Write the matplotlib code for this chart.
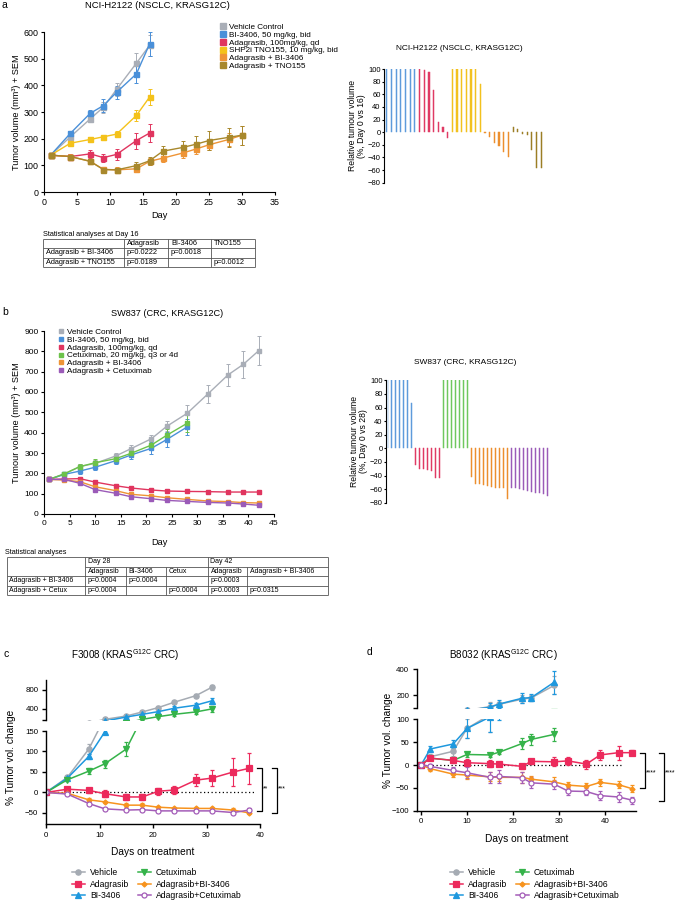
import matplotlib
matplotlib.use('Agg')
import matplotlib.pyplot as plt
from matplotlib.lines import Line2D

# ---------------- data ----------------
# Panel a: NCI-H2122 tumour growth
a_days_short = [1, 4, 7, 9, 11, 14, 16]
a_days_long = [1, 4, 7, 9, 11, 14, 16, 18, 21, 23, 25, 28, 30]
a_vehicle = [138, 207, 274, 318, 385, 483, 550]
a_vehicle_err = [5, 10, 12, 20, 25, 40, 40]
a_bi = [138, 220, 295, 324, 374, 443, 555]
a_bi_err = [5, 8, 12, 25, 25, 35, 45]
a_adag = [138, 133, 143, 129, 141, 193, 221]
a_adag_err = [5, 8, 15, 15, 20, 30, 35]
a_shp2 = [138, 183, 197, 207, 217, 287, 356]
a_shp2_err = [5, 8, 8, 8, 10, 20, 30]
a_adag_bi = [138, 133, 115, 85, 83, 87, 115, 127, 146, 161, 177, 197, 213]
a_adag_bi_err = [5, 8, 8, 10, 10, 10, 12, 15, 20, 20, 20, 25, 35]
a_adag_tno = [138, 133, 115, 84, 83, 99, 117, 153, 167, 179, 193, 205, 213]
a_adag_tno_err = [5, 5, 5, 10, 8, 15, 15, 20, 25, 30, 35, 35, 35]
a_labels = ['Vehicle Control', 'BI-3406, 50 mg/kg, bid', 'Adagrasib, 100mg/kg, qd',
            'SHP2i TNO155, 10 mg/kg, bid', 'Adagrasib + BI-3406', 'Adagrasib + TNO155']

# Panel a waterfall (Day 0 vs 16)
wf_a_bi = [100, 100, 100, 100, 100, 100, 100]
wf_a_adag = [100, 99, 96, 67, 16, 8, -10]
wf_a_shp2 = [100, 100, 100, 100, 100, 100, 77]
wf_a_adag_bi = [-2, -7, -17, -22, -31, -40]
wf_a_adag_tno = [8, 5, -3, -5, -29, -56, -57]

# Panel a stats table
tab_a_cols = ['', 'Adagrasib', 'BI-3406', 'TNO155']
tab_a_rows = [['Adagrasib + BI-3406', 'p=0.0222', 'p=0.0018', ''],
              ['Adagrasib + TNO155', 'p=0.0189', '', 'p=0.0012']]

# Panel b: SW837 tumour growth
b_days_long = [1, 4, 7, 10, 14, 17, 21, 24, 28, 32, 36, 39, 42]
b_days_short = [1, 4, 7, 10, 14, 17, 21, 24, 28]
b_vehicle = [170, 197, 233, 249, 285, 321, 370, 431, 495, 589, 684, 736, 803]
b_vehicle_err = [5, 10, 15, 15, 15, 20, 20, 25, 40, 45, 55, 65, 70]
b_bi = [170, 195, 211, 230, 262, 290, 323, 366, 428]
b_bi_err = [5, 10, 12, 12, 15, 20, 30, 35, 40]
b_adag = [170, 172, 174, 157, 139, 128, 118, 113, 111, 110, 108, 108, 108]
b_adag_err = [5, 6, 8, 8, 8, 8, 8, 8, 8, 8, 8, 8, 8]
b_cetux = [170, 198, 233, 252, 272, 298, 339, 387, 446]
b_cetux_err = [5, 10, 15, 20, 15, 15, 20, 30, 45]
b_adag_bi = [170, 167, 159, 134, 115, 97, 89, 80, 72, 64, 61, 56, 54]
b_adag_bi_err = [5, 5, 5, 5, 5, 5, 5, 5, 5, 5, 5, 5, 5]
b_adag_cet = [170, 170, 151, 120, 102, 85, 75, 67, 62, 57, 54, 49, 43]
b_adag_cet_err = [5, 5, 5, 5, 5, 5, 5, 5, 5, 5, 5, 5, 5]
b_labels = ['Vehicle Control', 'BI-3406, 50 mg/kg, bid', 'Adagrasib, 100mg/kg, qd',
            'Cetuximab, 20 mg/kg, q3 or 4d', 'Adagrasib + BI-3406', 'Adagrasib + Cetuximab']

# Panel b waterfall (Day 0 vs 28)
wf_b_bi = [100, 100, 100, 100, 100, 100, 66]
wf_b_adag = [-24, -30, -31, -32, -33, -43, -44]
wf_b_cetux = [100, 100, 100, 100, 100, 100, 100]
wf_b_adag_bi = [-42, -52, -53, -54, -55, -57, -58, -59, -59, -74]
wf_b_adag_cet = [-58, -59, -60, -61, -63, -64, -65, -66, -67, -70]

# Panel b stats table
tab_b_head1 = ['', 'Day 28', '', '', 'Day 42', '']
tab_b_head2 = ['', 'Adagrasib', 'BI-3406', 'Cetux', 'Adagrasib', 'Adagrasib + BI-3406']
tab_b_rows = [['Adagrasib + BI-3406', 'p=0.0004', 'p=0.0004', '', 'p=0.0003', ''],
              ['Adagrasib + Cetux', 'p=0.0004', '', 'p=0.0004', 'p=0.0003', 'p=0.0315']]

# Panel c: F3008
c_days = [0, 4, 8, 11, 15, 18, 21, 24, 28, 31, 35, 38]
c_days_ctrl = [0, 4, 8, 11, 15, 18, 21, 24, 28, 31]
c_vehicle = [0, 37, 106, 183, 253, 337, 428, 540, 674, 849]
c_vehicle_err = [0, 4, 12, 10, 20, 20, 25, 25, 30, 50]
c_bi = [0, 35, 88, 148, 232, 288, 344, 414, 477, 568]
c_bi_err = [0, 4, 6, 5, 15, 25, 30, 40, 45, 60]
c_cetux = [0, 31, 52, 70, 106, 183, 240, 288, 337, 400]
c_cetux_err = [0, 4, 8, 10, 18, 15, 30, 40, 40, 55]
c_adag = [0, 8, 5, -3, -11, -11, 3, 6, 30, 35, 50, 59]
c_adag_err = [0, 5, 6, 8, 8, 8, 8, 10, 15, 20, 35, 38]
c_adag_bi = [0, -2, -18, -23, -31, -31, -36, -38, -39, -39, -43, -50]
c_adag_bi_err = [0, 2, 4, 3, 5, 6, 4, 3, 3, 3, 6, 3]
c_adag_cet = [0, -4, -27, -40, -43, -42, -45, -45, -45, -45, -49, -43]
c_adag_cet_err = [0, 2, 3, 3, 3, 3, 3, 3, 3, 3, 4, 4]

# Panel d: B8032
d_days = [0, 2, 7, 10, 15, 17, 22, 24, 29, 32, 36, 39, 43, 46]
d_days_ctrl = [0, 2, 7, 10, 15, 17, 22, 24, 29]
d_vehicle = [0, 18, 30, 80, 110, 128, 168, 178, 275]
d_vehicle_err = [0, 5, 10, 20, 38, 15, 30, 25, 70]
d_bi = [0, 35, 46, 80, 105, 130, 175, 180, 300]
d_bi_err = [0, 7, 8, 22, 32, 32, 40, 30, 90]
d_cetux = [0, 15, 10, 23, 22, 28, 47, 56, 67]
d_cetux_err = [0, 4, 4, 5, 5, 5, 12, 12, 15]
d_adag = [0, 15, 10, 5, 3, 2, -3, 8, 7, 9, 2, 22, 27, 27]
d_adag_err = [0, 5, 5, 8, 8, 5, 6, 6, 10, 8, 10, 10, 15, 6]
d_adag_bi = [0, -8, -20, -22, -26, -27, -27, -31, -37, -44, -47, -38, -43, -52]
d_adag_bi_err = [0, 6, 6, 8, 10, 8, 12, 7, 10, 6, 8, 8, 8, 8]
d_adag_cet = [0, -3, -12, -17, -27, -25, -28, -39, -42, -57, -58, -67, -70, -77]
d_adag_cet_err = [0, 5, 8, 12, 12, 15, 12, 12, 10, 8, 8, 10, 10, 8]

cd_labels = ['Vehicle', 'Adagrasib', 'BI-3406', 'Cetuximab',
             'Adagrasib+BI-3406', 'Adagrasib+Cetuximab']

# ---------------- style ----------------
W, H = 677, 900
plt.rcParams['font.family'] = ['Liberation Sans', 'DejaVu Sans']
plt.rcParams['axes.linewidth'] = 0.8
plt.rcParams['xtick.major.width'] = 0.8
plt.rcParams['ytick.major.width'] = 0.8
plt.rcParams['xtick.major.size'] = 2.5
plt.rcParams['ytick.major.size'] = 2.5
plt.rcParams['xtick.major.pad'] = 1.5
plt.rcParams['ytick.major.pad'] = 1.5

C_VEH = '#A9AEB7'
C_BI = '#4A90D9'
C_ADAG = '#E0355F'
C_SHP2 = '#F4C21B'
C_ADBI = '#EE9436'
C_TNO = '#A8882C'
C_CET = '#6CC24A'
C_ADCET = '#9B5BB8'

W_BI = '#5E9BDB'
W_ADAG = '#E03A64'
W_SHP2 = '#F2C11E'
W_ADBI = '#EC8F2E'
W_TNO = '#9C7E25'
W_CET = '#6FC85E'
W_ADCET = '#9B5BB8'

D_VEH = '#A5ABB3'
D_ADAG = '#EC2A5C'
D_BI = '#1E98DE'
D_CET = '#35B34A'
D_ADBI = '#F7931E'
D_ADCET = '#A45DB8'

fig = plt.figure(figsize=(W / 100, H / 100), dpi=100)


def rect(l, t, r, b):
    return [l / W, 1 - b / H, (r - l) / W, (b - t) / H]


def fx(x):
    return x / W


def fy(y):
    return 1 - y / H


def ftext(x, y, s, **kw):
    fig.text(fx(x), fy(y), s, **kw)


def clean(ax, left=True, bottom=True):
    ax.spines['top'].set_visible(False)
    ax.spines['right'].set_visible(False)
    ax.spines['left'].set_visible(left)
    ax.spines['bottom'].set_visible(bottom)


# overlay axes in pixel coordinates for tables
ov = fig.add_axes([0, 0, 1, 1])
ov.set_xlim(0, W)
ov.set_ylim(H, 0)
ov.axis('off')
ov.patch.set_alpha(0)

# ---------------- panel labels ----------------
ftext(2, 5, 'a', fontsize=7.5, va='center')
ftext(2, 312, 'b', fontsize=7.5, va='center')
ftext(3, 654, 'c', fontsize=7.5, va='center')
ftext(367, 652, 'd', fontsize=7.5, va='center')


def sq_series(ax, x, y, e, color, ms=3.6, lw=1.0):
    ax.errorbar(x, y, yerr=e, color=color, marker='s', ms=ms, lw=lw,
                elinewidth=0.7, capsize=1.6, capthick=0.7)


# ---------------- panel a line ----------------
axA = fig.add_axes(rect(44, 32, 275, 192))
sq_series(axA, a_days_short, a_vehicle, a_vehicle_err, C_VEH)
sq_series(axA, a_days_short, a_bi, a_bi_err, C_BI)
sq_series(axA, a_days_short, a_adag, a_adag_err, C_ADAG)
sq_series(axA, a_days_short, a_shp2, a_shp2_err, C_SHP2)
sq_series(axA, a_days_long, a_adag_bi, a_adag_bi_err, C_ADBI)
sq_series(axA, a_days_long, a_adag_tno, a_adag_tno_err, C_TNO)
axA.set_xlim(0, 35)
axA.set_ylim(0, 600)
axA.set_xticks(range(0, 36, 5))
axA.set_yticks(range(0, 601, 100))
axA.tick_params(labelsize=6.4)
clean(axA)
axA.set_xlabel('Day', fontsize=6.6, labelpad=3)
axA.set_ylabel('Tumor volume (mm³) + SEM', fontsize=6.6, labelpad=2)
ftext(157, 6, 'NCI-H2122 (NSCLC, KRASG12C)', fontsize=6.8, ha='center', va='center')
hA = [Line2D([], [], ls='none', marker='s', ms=3.8, color=c)
      for c in [C_VEH, C_BI, C_ADAG, C_SHP2, C_ADBI, C_TNO]]
fig.legend(hA, a_labels, loc='upper left', bbox_to_anchor=(fx(221), fy(23.5)),
           frameon=False, fontsize=5.9, handlelength=0.6, handletextpad=0.4,
           labelspacing=0.0, borderpad=0, borderaxespad=0)


def waterfall(ax, groups, width, npos):
    pos = 0
    for vals, col in groups:
        xs = list(range(pos, pos + len(vals)))
        ax.bar(xs, vals, width=width, color=col, edgecolor=col, linewidth=0.35)
        pos += len(vals)
    ax.set_xlim(-0.6, npos - 0.4)
    ax.set_ylim(-80, 100)
    ax.set_yticks(range(-80, 101, 20))
    ax.set_xticks([])
    clean(ax, bottom=False)
    ax.tick_params(labelsize=5.5, length=1.5, pad=1)


# ---------------- panel a waterfall ----------------
axWA = fig.add_axes(rect(384, 69, 544, 182.7))
waterfall(axWA, [(wf_a_bi, W_BI), (wf_a_adag, W_ADAG), (wf_a_shp2, W_SHP2),
                 (wf_a_adag_bi, W_ADBI), (wf_a_adag_tno, W_TNO)], 0.26, 34)
axWA.set_ylabel('Relative tumour volume\n(%, Day 0 vs 16)', fontsize=6.2,
                linespacing=1.1, labelpad=1)
ftext(459, 48, 'NCI-H2122 (NSCLC, KRASG12C)', fontsize=6, ha='center', va='center')


def draw_line(x0, y0, x1, y1, lw=0.6, color='#555555'):
    ov.plot([x0, x1], [y0, y1], color=color, lw=lw, solid_capstyle='butt')


# ---------------- table a ----------------
ftext(43, 234, 'Statistical analyses at Day 16', fontsize=5.3, va='center')
ta_x = [43, 124, 168, 211, 255]
ta_y = [239.3, 248.3, 257.7, 266.7]
for y in ta_y:
    draw_line(ta_x[0], y, ta_x[-1], y)
for x in ta_x:
    draw_line(x, ta_y[0], x, ta_y[-1])
for r, row in enumerate([tab_a_cols] + tab_a_rows):
    yc = (ta_y[r] + ta_y[r + 1]) / 2
    for c, txt in enumerate(row):
        if txt:
            ov.text(ta_x[c] + 3, yc, txt, fontsize=5.3, va='center', ha='left')

# ---------------- panel b line ----------------
axB = fig.add_axes(rect(44, 331, 274, 514))
sq_series(axB, b_days_long, b_vehicle, b_vehicle_err, C_VEH, ms=3.3)
sq_series(axB, b_days_short, b_bi, b_bi_err, C_BI, ms=3.3)
sq_series(axB, b_days_long, b_adag, b_adag_err, C_ADAG, ms=3.3)
sq_series(axB, b_days_short, b_cetux, b_cetux_err, C_CET, ms=3.3)
sq_series(axB, b_days_long, b_adag_bi, b_adag_bi_err, C_ADBI, ms=3.3)
sq_series(axB, b_days_long, b_adag_cet, b_adag_cet_err, C_ADCET, ms=3.3)
axB.set_xlim(0, 45)
axB.set_ylim(0, 900)
axB.set_xticks(range(0, 46, 5))
axB.set_yticks(range(0, 901, 100))
axB.tick_params(labelsize=6.1)
clean(axB)
axB.set_xlabel('Day', fontsize=6.6, labelpad=8)
axB.set_ylabel('Tumour volume (mm³) + SEM', fontsize=6.6, labelpad=2)
ftext(167, 313, 'SW837 (CRC, KRASG12C)', fontsize=6.6, ha='center', va='center')
hB = [Line2D([], [], ls='none', marker='s', ms=3.5, color=c)
      for c in [C_VEH, C_BI, C_ADAG, C_CET, C_ADBI, C_ADCET]]
fig.legend(hB, b_labels, loc='upper left', bbox_to_anchor=(fx(59), fy(328.5)),
           frameon=False, fontsize=5.9, handlelength=0.6, handletextpad=0.4,
           labelspacing=0.0, borderpad=0, borderaxespad=0)

# ---------------- panel b waterfall ----------------
axWB = fig.add_axes(rect(386, 380.3, 549.3, 502.7))
waterfall(axWB, [(wf_b_bi, W_BI), (wf_b_adag, W_ADAG), (wf_b_cetux, W_CET),
                 (wf_b_adag_bi, W_ADBI), (wf_b_adag_cet, W_ADCET)], 0.24, 41)
axWB.set_xlim(-0.5, 40.5)
axWB.set_ylabel('Relative tumour volume\n(%, Day 0 vs 28)', fontsize=6.2,
                linespacing=1.1, labelpad=1)
ftext(465, 363, 'SW837 (CRC, KRASG12C)', fontsize=6, ha='center', va='center')

# ---------------- table b ----------------
ftext(5, 552, 'Statistical analyses', fontsize=5.2, va='center')
tb_x = [6.7, 85, 126, 166, 208, 247, 328]
tb_y = [557, 566.5, 576, 585.5, 595]
draw_line(tb_x[0], tb_y[0], tb_x[-1], tb_y[0])
draw_line(tb_x[1], tb_y[1], tb_x[-1], tb_y[1])
for y in tb_y[2:]:
    draw_line(tb_x[0], y, tb_x[-1], y)
for x in [tb_x[0], tb_x[1], tb_x[4], tb_x[-1]]:
    draw_line(x, tb_y[0], x, tb_y[-1])
for x in [tb_x[2], tb_x[3], tb_x[5]]:
    draw_line(x, tb_y[1], x, tb_y[-1])
for r, row in enumerate([tab_b_head1, tab_b_head2] + tab_b_rows):
    yc = (tb_y[r] + tb_y[r + 1]) / 2
    for c, txt in enumerate(row):
        if txt:
            ov.text(tb_x[c] + 2.5, yc, txt, fontsize=5.0, va='center', ha='left')


# ---------------- panels c & d ----------------
def cd_series(ax, x, y, e, color, marker, ms, mfc=None):
    ax.errorbar(x, y, yerr=e, color=color, marker=marker, ms=ms, lw=1.1,
                elinewidth=0.8, capsize=1.5, capthick=0.8,
                mfc=mfc if mfc else color, mec=color, mew=0.9)


def cd_all(ax, days, days_ctrl, veh, veh_e, bi, bi_e, cet, cet_e,
           adag, adag_e, adbi, adbi_e, adcet, adcet_e):
    cd_series(ax, days_ctrl, veh, veh_e, D_VEH, 'o', 3.8)
    cd_series(ax, days_ctrl, bi, bi_e, D_BI, '^', 3.8)
    cd_series(ax, days_ctrl, cet, cet_e, D_CET, 'v', 3.8)
    cd_series(ax, days, adag, adag_e, D_ADAG, 's', 3.8)
    cd_series(ax, days, adbi, adbi_e, D_ADBI, 'D', 2.6)
    cd_series(ax, days, adcet, adcet_e, D_ADCET, 'o', 3.6, mfc='white')


def style_cd(upper, lower):
    for ax in (upper, lower):
        ax.tick_params(labelsize=5.7, width=1.0, length=3, pad=2.5)
        for s in ax.spines.values():
            s.set_linewidth(1.0)
    clean(upper, bottom=False)
    clean(lower)
    upper.set_xticks([])


# c
axCu = fig.add_axes(rect(46, 680, 260, 720))
axCl = fig.add_axes(rect(46, 731, 260, 824))
for ax in (axCu, axCl):
    cd_all(ax, c_days, c_days_ctrl, c_vehicle, c_vehicle_err, c_bi, c_bi_err,
           c_cetux, c_cetux_err, c_adag, c_adag_err, c_adag_bi, c_adag_bi_err,
           c_adag_cet, c_adag_cet_err)
    ax.set_xlim(0, 40)
axCu.set_ylim(170, 1000)
axCl.set_ylim(-77, 150)
style_cd(axCu, axCl)
axCu.set_yticks([170, 400, 800])
axCu.set_yticklabels(['', '400', '800'])
axCl.set_yticks([-50, 0, 50, 100, 150])
axCl.set_xticks([0, 10, 20, 30, 40])
axCl.plot([0, 38.8], [0, 0], color='black', lw=0.9, ls=(0, (1, 2)), zorder=0.5)
axCl.set_xlabel('Days on treatment', fontsize=7.3, labelpad=6)
ftext(11, 757, '% Tumor vol. change', fontsize=7.3, rotation=90, ha='center', va='center')
ftext(125, 655, 'F3008 (KRAS$^{\\mathregular{G12C}}$ CRC)', fontsize=7.1, ha='center', va='center')
# significance brackets c
axCl.plot([39.4, 40.3, 40.3, 39.4], [59, 59, -45, -45], color='black', lw=0.9, clip_on=False)
axCl.plot([42.2, 43.1, 43.1, 42.2], [59, 59, -50, -50], color='black', lw=0.9, clip_on=False)
axCl.text(40.6, 8, '**', fontsize=5, ha='left', va='center', clip_on=False)
axCl.text(43.4, 8, '***', fontsize=5, ha='left', va='center', clip_on=False)

# d
axDu = fig.add_axes(rect(416.7, 669.3, 636, 707.9))
axDl = fig.add_axes(rect(416.7, 719.3, 636, 810.7))
for ax in (axDu, axDl):
    cd_all(ax, d_days, d_days_ctrl, d_vehicle, d_vehicle_err, d_bi, d_bi_err,
           d_cetux, d_cetux_err, d_adag, d_adag_err, d_adag_bi, d_adag_bi_err,
           d_adag_cet, d_adag_cet_err)
    ax.set_xlim(-0.95, 46.8)
axDu.set_ylim(100, 400)
axDl.set_ylim(-100, 100)
style_cd(axDu, axDl)
axDu.set_yticks([100, 200, 400])
axDu.set_yticklabels(['', '200', '400'])
axDl.set_yticks([-100, -50, 0, 50, 100])
axDl.set_xticks([0, 10, 20, 30, 40])
axDl.plot([0, 44], [0, 0], color='black', lw=0.9, ls=(0, (1, 2)), zorder=0.5)
axDl.set_xlabel('Days on treatment', fontsize=7.3, labelpad=6)
ftext(388, 740, '% Tumor vol. change', fontsize=7.3, rotation=90, ha='center', va='center')
ftext(503, 655, 'B8032 (KRAS$^{\\mathregular{G12C}}$ CRC)', fontsize=7.1, ha='center', va='center')
axDl.plot([47.6, 48.7, 48.7, 47.6], [27, 27, -50, -50], color='black', lw=0.9, clip_on=False)
axDl.plot([51.9, 53.0, 53.0, 51.9], [27, 27, -78, -78], color='black', lw=0.9, clip_on=False)
axDl.text(49.0, -18, '****', fontsize=5, ha='left', va='center', clip_on=False)
axDl.text(53.2, -18, '****', fontsize=5, ha='left', va='center', clip_on=False)


def cd_handles():
    specs = [(D_VEH, 'o', 3.8, None), (D_ADAG, 's', 3.8, None), (D_BI, '^', 3.8, None),
             (D_CET, 'v', 3.8, None), (D_ADBI, 'D', 2.6, None), (D_ADCET, 'o', 3.6, 'white')]
    return [Line2D([], [], color=c, marker=m, ms=ms, lw=1.1,
                   mfc=mf if mf else c, mec=c, mew=0.9) for c, m, ms, mf in specs]


for xleft in (72, 450):
    fig.legend(cd_handles(), cd_labels, ncol=2, loc='upper left',
               bbox_to_anchor=(fx(xleft), fy(868)), frameon=False, fontsize=6.2,
               handlelength=1.5, handletextpad=0.6, columnspacing=1.0,
               labelspacing=0.3, borderpad=0, borderaxespad=0)

fig.savefig('out.png', dpi=100)
